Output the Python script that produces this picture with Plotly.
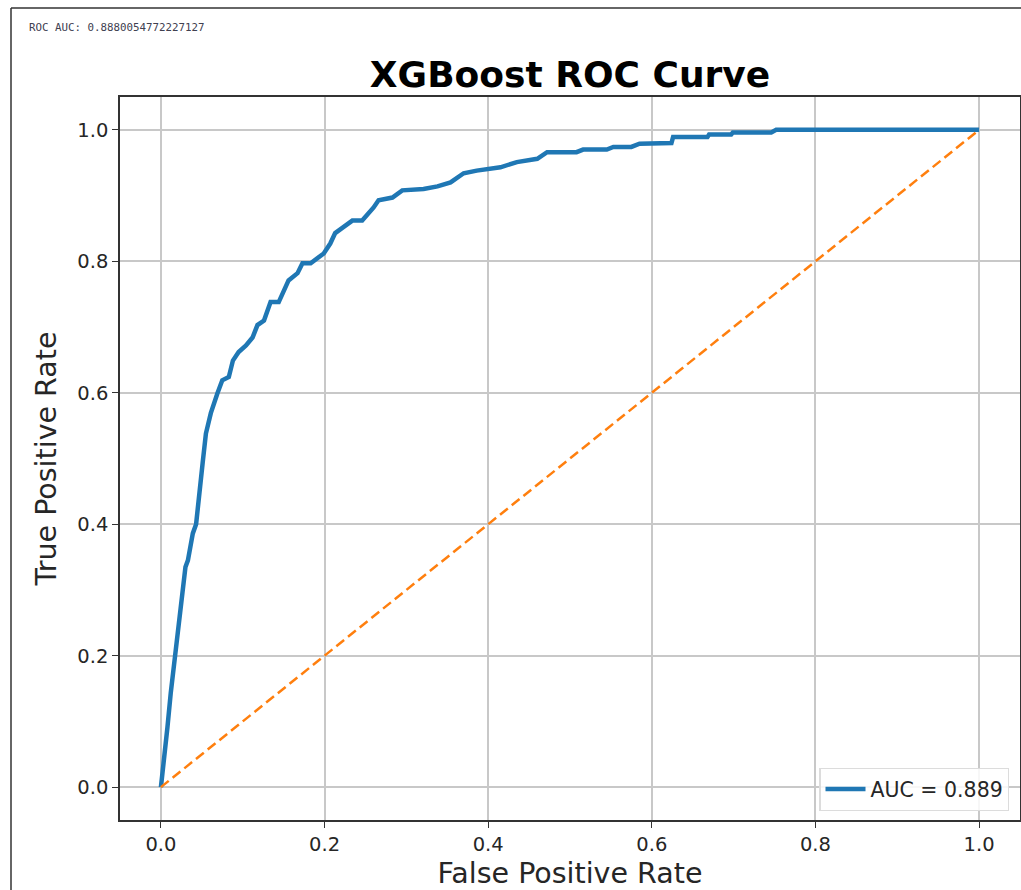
import plotly.graph_objects as go

# ROC curve points
fpr = [0.0, 0.004, 0.008, 0.012, 0.017, 0.021, 0.026, 0.028, 0.030, 0.033, 0.039, 0.043,
       0.047, 0.051, 0.055, 0.061, 0.069, 0.075, 0.083, 0.088, 0.095, 0.104, 0.112, 0.118,
       0.126, 0.130, 0.134, 0.144, 0.150, 0.156, 0.167, 0.173, 0.183, 0.199, 0.207, 0.213,
       0.223, 0.234, 0.246, 0.252, 0.260, 0.266, 0.283, 0.295, 0.321, 0.338, 0.354, 0.370,
       0.386, 0.415, 0.435, 0.460, 0.472, 0.508, 0.516, 0.545, 0.553, 0.575, 0.585, 0.624,
       0.626, 0.668, 0.670, 0.697, 0.699, 0.746, 0.752, 1.0]
tpr = [0.0, 0.041, 0.091, 0.143, 0.198, 0.243, 0.284, 0.320, 0.335, 0.345, 0.386, 0.400,
       0.452, 0.493, 0.538, 0.569, 0.599, 0.619, 0.624, 0.649, 0.662, 0.672, 0.684, 0.703,
       0.710, 0.725, 0.738, 0.738, 0.756, 0.771, 0.782, 0.797, 0.797, 0.812, 0.827, 0.843,
       0.852, 0.862, 0.862, 0.870, 0.882, 0.893, 0.897, 0.908, 0.910, 0.914, 0.920, 0.934,
       0.938, 0.943, 0.951, 0.956, 0.966, 0.966, 0.970, 0.970, 0.974, 0.974, 0.979, 0.980,
       0.989, 0.989, 0.993, 0.993, 0.996, 0.996, 1.0, 1.0]
diag = [0.0, 1.0]
printed_auc = "0.8880054772227127"
legend_auc = "0.889"
ticks = [0.0, 0.2, 0.4, 0.6, 0.8, 1.0]
tick_labels = ["0.0", "0.2", "0.4", "0.6", "0.8", "1.0"]

FONT = "DejaVu Sans"
W, H = 1021, 890
L, R, T, B = 120, 1, 97, 70
pw, ph = W - L - R, H - T - B

fig = go.Figure()
fig.add_trace(go.Scatter(x=fpr, y=tpr, mode="lines", name=f"AUC = {legend_auc}",
                         line=dict(color="#1f77b4", width=4.5)))
fig.add_trace(go.Scatter(x=diag, y=diag, mode="lines", showlegend=False,
                         line=dict(color="#ff7f0e", width=2.5, dash="10px,5px")))

axis_common = dict(
    range=[-0.05, 1.05], tickvals=ticks, ticktext=tick_labels,
    showgrid=True, gridcolor="#c8c8c8", gridwidth=1.5, zeroline=False,
    showline=True, mirror=True, linecolor="#333333", linewidth=1.6,
    ticks="outside", ticklen=6, tickwidth=1.3, tickcolor="#333333",
    tickfont=dict(family=FONT, size=19.5, color="#262626"),
)

fig.update_layout(
    width=W, height=H, autosize=False,
    margin=dict(l=L, r=R, t=T, b=B, autoexpand=False),
    paper_bgcolor="white", plot_bgcolor="white",
    showlegend=True,
    legend=dict(x=0.988, y=0.0125, xanchor="right", yanchor="bottom",
                bgcolor="rgba(255,255,255,0.85)", bordercolor="#dcdcdc", borderwidth=1.3,
                font=dict(family=FONT, size=20.5, color="#262626"),
                itemwidth=40, tracegroupgap=0),
    title=dict(text="<b>XGBoost ROC Curve</b>", x=(L + pw / 2) / W, xanchor="center",
               y=1 - 74 / H, yanchor="middle",
               font=dict(family=FONT, size=36, color="#000000")),
    xaxis=dict(axis_common, title=dict(text="False Positive Rate", standoff=10,
                                       font=dict(family=FONT, size=28.5, color="#262626"))),
    yaxis=dict(axis_common, title=dict(text="True Positive Rate", standoff=12,
                                       font=dict(family=FONT, size=28.5, color="#262626"))),
)

# small printed output text at top-left
fig.add_annotation(text=f"ROC AUC: {printed_auc}", xref="paper", yref="paper",
                   x=(27 - L) / pw, y=1 + (T - 28) / ph, xanchor="left", yanchor="middle",
                   showarrow=False, font=dict(family="DejaVu Sans Mono", size=10.8, color="#404050"))

# outer frame lines of the screenshot (left and top)
fig.add_shape(type="line", xref="paper", yref="paper",
              x0=(11 - L) / pw, x1=(11 - L) / pw, y0=1 + (T - 8) / ph, y1=-(B + 5) / ph,
              line=dict(color="#333333", width=1.5))
fig.add_shape(type="line", xref="paper", yref="paper",
              x0=(11 - L) / pw, x1=(W + 5 - L) / pw, y0=1 + (T - 8) / ph, y1=1 + (T - 8) / ph,
              line=dict(color="#333333", width=1.5))

fig.write_html("out.html")
